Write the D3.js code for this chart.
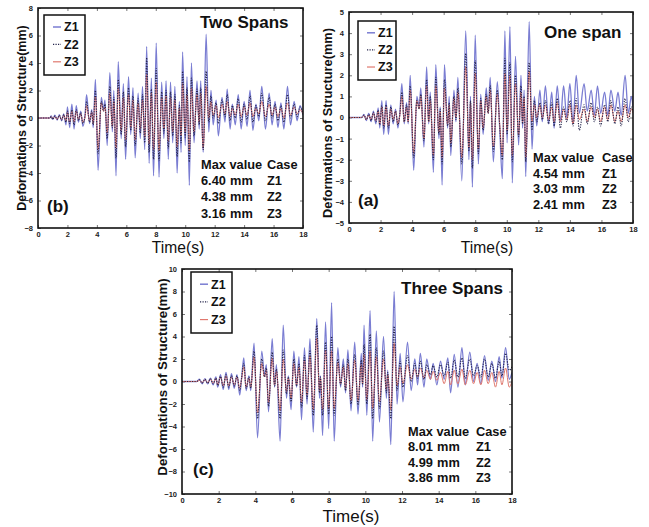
<!DOCTYPE html>
<html>
<head>
<meta charset="utf-8">
<script src="https://cdn.jsdelivr.net/npm/d3@7"></script>
<style>
  body { margin: 0; background: #fff; }
  svg { display: block; }
</style>
</head>
<body>
<svg id="fig" width="649" height="527"></svg>
<script>
// series names and the max-value tables
var seriesNames = ["Z1", "Z2", "Z3"];
var twoSpanMax = ["6.40", "4.38", "3.16"];
var oneSpanMax = ["4.54", "3.03", "2.41"];
var threeSpanMax = ["8.01", "4.99", "3.86"];

// (b) Two Spans : turning points (time s, deformation mm)
var twoTime = [0,0.8,0.9,1.0,1.15,1.3,1.45,1.6,1.75,1.9,2.0,2.15,2.3,2.45,2.6,2.75,2.9,3.05,3.2,3.3,
  3.5,3.65,3.75,3.9,4.08,4.3,4.45,4.55,4.7,4.88,5.05,5.15,5.3,5.45,5.65,5.8,5.95,6.15,6.3,6.45,
  6.6,6.8,6.95,7.1,7.25,7.38,7.55,7.7,7.85,8.03,8.22,8.4,8.55,8.7,8.85,9.0,9.15,9.3,9.45,9.6,
  9.72,9.82,10.0,10.12,10.28,10.42,10.6,10.8,10.95,11.05,11.22,11.42,11.6,11.75,11.9,12.1,12.25,12.5,12.7,12.85,
  13.05,13.2,13.4,13.6,13.8,14.0,14.2,14.4,14.6,14.8,15.0,15.2,15.45,15.7,15.9,16.1,16.3,16.5,16.7,16.95,
  17.15,17.4,17.6,17.8,18.0];
var twoZ1 = [0,0,0.15,-0.1,0.2,-0.15,0.25,-0.2,0.3,-0.5,0.8,-0.7,1.0,-0.8,0.9,-0.3,0.5,-0.6,0.3,1.7,
  -0.4,0.6,-0.7,2.8,-3.8,1.5,0.6,1.3,-2.0,3.3,-1.0,2.0,-4.2,4.1,-1.5,2.5,-3.0,3.0,-1.2,2.2,
  -2.9,1.8,-1.5,2.3,-2.3,5.2,-3.3,2.9,-4.2,5.45,-4.3,2.6,-1.5,2.7,-3.0,2.6,-1.8,2.3,-4.0,1.2,
  -2.5,4.8,-2.0,3.0,-4.9,4.0,-1.8,2.7,-0.8,2.7,-2.5,6.1,-1.0,2.0,-0.5,1.3,-1.3,1.5,-0.3,2.1,
  -0.8,1.0,-0.5,1.7,-0.8,1.2,-0.6,2.0,-0.9,1.0,-0.2,2.3,-0.8,1.8,-0.5,1.2,-0.7,1.1,-0.8,2.3,
  -0.5,1.2,-0.2,0.9,0.2];
var twoZ2 = [0,0,0.1,-0.1,0.15,-0.1,0.2,-0.15,0.25,-0.3,0.5,-0.4,0.6,-0.5,0.6,-0.2,0.4,-0.4,0.2,1.2,
  -0.3,0.5,-0.5,2.0,-2.6,1.2,0.5,1.0,-1.5,2.3,-0.7,1.5,-2.9,2.8,-1.2,1.9,-2.1,2.2,-0.9,1.6,
  -2.0,1.4,-1.1,1.7,-1.8,4.38,-2.5,2.1,-3.0,3.6,-3.1,1.9,-1.1,2.0,-2.2,1.9,-1.3,1.7,-2.8,0.9,
  -1.8,3.4,-1.4,2.2,-3.2,2.9,-1.3,2.1,-0.5,2.2,-2.3,3.4,-0.3,1.6,0.0,1.1,-0.4,1.3,0.1,1.7,
  -0.2,0.9,0.0,1.4,-0.3,1.0,-0.1,1.6,-0.3,0.9,0.1,1.8,-0.2,1.5,0.0,1.0,-0.2,0.9,-0.3,1.7,
  0.0,1.0,0.1,0.8,0.3];
var twoZ3 = [0,0,0.1,-0.05,0.1,-0.1,0.15,-0.1,0.2,-0.2,0.4,-0.3,0.5,-0.3,0.5,-0.1,0.3,-0.3,0.1,0.9,
  -0.2,0.4,-0.4,1.6,-2.3,1.1,0.5,0.8,-1.1,1.8,-0.6,1.2,-2.2,2.2,-0.9,1.5,-1.6,1.7,-0.7,1.3,
  -1.6,1.1,-0.8,1.3,-1.4,3.16,-1.9,1.8,-2.3,2.6,-2.4,1.5,-0.8,1.6,-1.7,1.5,-1.0,1.3,-2.1,0.7,
  -1.3,2.5,-1.0,1.7,-2.4,2.2,-1.0,1.7,-0.3,1.8,-2.2,2.3,0.0,1.2,0.2,0.9,0.0,1.0,0.3,1.2,
  0.1,0.7,0.2,1.0,0.1,0.8,0.2,1.1,0.1,0.7,0.3,1.2,0.1,1.0,0.2,0.8,0.1,0.7,0.0,1.1,
  0.2,0.8,0.3,0.6,0.3];

// (a) One span
var oneTime = [0,0.8,0.95,1.1,1.25,1.4,1.55,1.7,1.85,1.95,2.08,2.2,2.35,2.5,2.65,2.8,2.95,3.1,3.22,3.35,
  3.5,3.65,3.75,3.88,4.1,4.3,4.45,4.55,4.75,4.92,5.05,5.15,5.35,5.5,5.7,5.78,5.9,6.05,6.25,6.35,
  6.45,6.65,6.78,6.9,7.15,7.4,7.6,7.7,7.82,8.0,8.2,8.35,8.5,8.7,8.82,8.95,9.15,9.4,9.55,9.72,
  9.88,10.02,10.2,10.35,10.55,10.75,10.9,11.0,11.1,11.2,11.42,11.6,11.75,11.9,12.1,12.25,12.45,12.65,12.85,13.0,
  13.2,13.4,13.6,13.8,14.0,14.2,14.4,14.6,14.9,15.1,15.35,15.55,15.75,15.95,16.2,16.4,16.6,16.85,17.05,17.25,
  17.5,17.7,17.9,18.0];
var oneZ1 = [0,0,0.15,-0.15,0.2,-0.2,0.3,-0.3,0.45,-0.5,0.8,-0.8,0.8,-0.8,0.6,-0.3,0.4,-0.5,0.2,1.6,
  -0.3,0.7,-0.3,2.0,-2.5,1.0,0.5,1.4,-1.4,2.4,-0.3,1.2,-2.6,2.5,-1.0,0.5,-3.2,2.5,-0.5,1.0,
  -1.8,1.3,-0.2,1.9,-3.0,4.1,-2.0,1.0,-3.3,3.9,-2.2,1.1,-0.8,1.4,0.2,1.9,-2.1,1.7,-0.5,-2.9,
  4.1,-1.2,4.3,-3.1,2.9,-1.3,2.0,-0.5,1.3,-2.8,4.54,-1.5,1.0,-0.4,1.3,-0.2,1.5,-0.3,1.2,-0.5,
  1.5,-0.2,1.5,0.0,1.6,-0.3,2.0,0.2,1.6,0.3,1.3,0.1,1.5,0.2,1.2,0.1,1.3,0.3,1.2,0.1,
  2.0,0.2,1.0,0.5];
var oneZ2 = [0,0,0.12,-0.1,0.15,-0.15,0.25,-0.2,0.35,-0.35,0.55,-0.5,0.6,-0.5,0.5,-0.2,0.3,-0.35,0.15,1.2,
  -0.2,0.6,-0.2,1.5,-1.9,0.8,0.4,1.1,-1.1,1.8,-0.2,1.0,-2.0,1.9,-0.8,0.4,-2.2,1.8,-0.4,0.7,
  -1.4,1.0,-0.1,1.4,-2.2,3.03,-1.6,0.8,-2.4,2.7,-1.7,0.9,-0.6,1.1,0.2,1.5,-1.6,1.3,-0.4,-2.0,
  2.8,-0.8,2.6,-2.1,2.0,-0.9,1.5,-0.3,1.0,-2.1,2.6,-0.6,0.8,-0.2,0.7,-0.1,0.8,-0.3,0.7,-0.4,
  0.9,-0.5,0.5,-0.2,0.8,-0.4,0.9,-0.6,0.6,-0.3,0.7,-0.2,0.5,-0.4,0.6,-0.2,0.8,-0.3,0.5,-0.4,
  0.9,-0.2,0.5,0.3];
var oneZ3 = [0,0,0.1,-0.1,0.12,-0.1,0.2,-0.15,0.3,-0.3,0.5,-0.4,0.5,-0.4,0.4,-0.1,0.3,-0.3,0.1,1.0,
  -0.2,0.5,-0.2,1.3,-1.7,0.8,0.4,1.0,-1.0,1.5,-0.2,0.8,-1.8,1.5,-0.7,0.3,-1.9,1.4,-0.3,0.6,
  -1.2,0.9,0.0,1.2,-1.9,2.41,-1.4,0.7,-2.0,2.1,-1.5,0.8,-0.5,1.0,0.2,1.3,-1.4,1.1,-0.3,-1.8,
  2.1,-0.6,2.0,-1.8,1.6,-0.8,1.2,-0.2,0.9,-1.9,2.2,-0.2,0.6,0.0,0.6,0.0,0.6,-0.1,0.5,-0.2,
  0.7,-0.2,0.4,-0.1,0.6,-0.3,0.6,-0.1,0.4,-0.2,0.5,0.0,0.4,-0.2,0.5,-0.1,0.6,-0.2,0.3,-0.2,
  0.6,0.0,0.4,0.2];

// (c) Three Spans
var threeTime = [0,0.8,0.95,1.1,1.25,1.4,1.55,1.7,1.85,1.95,2.1,2.25,2.4,2.55,2.7,2.85,3.0,3.15,3.25,3.37,
  3.5,3.65,3.75,3.93,4.12,4.35,4.5,4.6,4.72,4.92,5.05,5.15,5.35,5.52,5.7,5.8,5.95,6.1,6.25,6.38,
  6.52,6.68,6.82,6.98,7.16,7.35,7.5,7.55,7.67,7.83,8.0,8.16,8.3,8.5,8.65,8.8,8.92,9.05,9.22,9.42,
  9.6,9.78,9.85,9.93,10.08,10.26,10.4,10.6,10.77,10.99,11.15,11.22,11.39,11.57,11.73,11.9,12.05,12.3,12.5,12.7,
  12.85,13.0,13.2,13.35,13.55,13.7,13.9,14.1,14.3,14.5,14.65,14.85,15.05,15.27,15.45,15.7,15.9,16.1,16.3,16.5,
  16.7,16.9,17.1,17.3,17.45,17.65,17.85,18.0];
var threeZ1 = [0,0,0.2,-0.2,0.25,-0.2,0.3,-0.3,0.4,-0.5,0.6,-0.7,0.8,-0.7,0.7,-0.6,0.6,-1.2,0.3,2.1,
  -0.8,0.5,-0.8,3.4,-5.0,2.7,0.5,1.5,-2.7,3.8,-0.5,1.5,-5.3,5.0,-1.5,0.5,-2.5,2.7,-0.5,2.2,
  -3.4,3.0,-2.0,3.8,-4.5,5.6,-1.5,0.5,-4.8,5.3,-4.2,7.0,-5.3,3.0,-0.5,2.0,-1.0,2.8,-2.6,3.5,
  -2.9,2.5,-0.5,5.0,-3.0,6.3,-5.3,4.5,-3.6,4.0,-1.5,1.0,-5.6,8.01,-2.0,2.5,-1.8,3.5,-0.8,2.0,
  -0.3,2.5,-0.5,2.0,0.2,1.6,-0.3,1.8,0.2,2.1,-1.0,2.4,-0.5,3.0,-0.3,2.6,0.0,1.6,-0.2,2.3,
  0.1,1.8,0.0,2.2,0.3,3.0,0.2,0.8];
var threeZ2 = [0,0,0.15,-0.15,0.2,-0.15,0.25,-0.2,0.3,-0.35,0.45,-0.5,0.6,-0.5,0.5,-0.4,0.5,-0.8,0.3,1.6,
  -0.6,0.4,-0.6,2.7,-3.3,2.0,0.4,1.2,-2.2,2.6,-0.4,1.1,-3.3,2.8,-1.1,0.4,-1.8,2.0,-0.4,1.6,
  -2.3,2.3,-1.5,2.8,-3.0,4.99,-1.0,0.4,-3.0,3.5,-2.9,4.0,-3.0,2.0,-0.3,1.5,-0.8,2.0,-2.0,2.4,
  -2.1,1.9,-0.3,3.3,-2.0,4.2,-3.3,3.0,-2.4,2.7,-1.0,0.8,-3.3,4.9,-0.8,1.8,-0.5,2.3,0.0,1.6,
  0.3,1.8,0.2,1.5,0.6,1.4,0.4,1.5,0.5,1.7,0.3,1.9,0.4,2.1,0.3,2.0,0.5,1.4,0.4,2.0,
  0.4,1.6,0.3,1.8,0.5,2.5,1.0,1.3];
var threeZ3 = [0,0,0.1,-0.1,0.15,-0.1,0.2,-0.15,0.25,-0.3,0.4,-0.4,0.5,-0.4,0.4,-0.3,0.4,-0.6,0.2,1.3,
  -0.5,0.3,-0.5,2.2,-2.8,1.6,0.4,1.0,-1.9,2.1,-0.3,0.9,-2.6,2.0,-0.9,0.3,-1.5,1.6,-0.3,1.3,
  -1.9,1.9,-1.2,2.3,-2.5,3.86,-0.8,0.3,-2.5,2.8,-2.4,2.7,-2.4,1.7,-0.2,1.3,-0.6,1.6,-1.7,1.9,
  -1.7,1.5,-0.2,2.4,-1.6,2.7,-2.4,2.2,-1.8,2.0,-0.7,0.6,-2.5,3.4,-0.4,1.3,-0.2,1.5,0.2,1.1,
  0.4,1.2,0.3,1.0,0.2,0.9,0.1,0.8,-0.2,0.9,-0.3,1.0,-0.2,1.1,-0.3,1.0,-0.2,0.8,-0.3,1.0,
  -0.2,0.8,-0.5,0.9,-0.3,1.2,-0.5,0.0];

// panel layout (pixels)
var panels = [
  { title: "Two Spans", tag: "(b)", time: twoTime, series: [twoZ1, twoZ2, twoZ3], maxv: twoSpanMax,
    x0: 38, x1: 303, y0: 8, y1: 228, yDom: [-8, 8], yStep: 2,
    leg: [44, 15, 41, 60], titleXY: [200, 28], tab: [201, 169, 16.2, 230, 267], tagXY: [47, 212],
    ylab: [22, 118, 12.5], xlab: [178, 253, 15.6] },
  { title: "One span", tag: "(a)", time: oneTime, series: [oneZ1, oneZ2, oneZ3], maxv: oneSpanMax,
    x0: 349, x1: 633, y0: 12, y1: 223, yDom: [-5, 5], yStep: 1,
    leg: [358, 21, 38, 59], titleXY: [544, 38], tab: [533, 162, 15.7, 562, 602], tagXY: [358, 206],
    ylab: [328, 123, 12.8], xlab: [487, 253, 15.6] },
  { title: "Three Spans", tag: "(c)", time: threeTime, series: [threeZ1, threeZ2, threeZ3], maxv: threeSpanMax,
    x0: 182, x1: 512, y0: 269, y1: 494, yDom: [-10, 10], yStep: 2,
    leg: [191, 272, 41, 61], titleXY: [401, 294], tab: [408, 436, 15.3, 437, 476], tagXY: [193, 475],
    ylab: [162, 377, 13.3], xlab: [351, 522, 17] }
];

var styles = [
  { color: "#7a7dd2", width: 1.3, dash: null },
  { color: "#25254c", width: 1.1, dash: "1.2,1.3" },
  { color: "#e0786e", width: 1.0, dash: null }
];
var drawOrder = [0, 2, 1];

var svg = d3.select("#fig");
var sans = "'Liberation Sans', Arial, sans-serif";
var narrow = "'Liberation Sans Narrow', 'Arial Narrow', 'Liberation Sans', sans-serif";

panels.forEach(function (p, pi) {
  var x = d3.scaleLinear().domain([0, 18]).range([p.x0, p.x1]);
  var y = d3.scaleLinear().domain(p.yDom).range([p.y1, p.y0]);
  var g = svg.append("g");

  // clip
  var cid = "clip" + pi;
  svg.append("clipPath").attr("id", cid).append("rect")
    .attr("x", p.x0).attr("y", p.y0).attr("width", p.x1 - p.x0).attr("height", p.y1 - p.y0);

  // axes: ticks inside, mirrored
  var xt = d3.range(0, 19, 2);
  var yt = d3.range(p.yDom[0], p.yDom[1] + 0.001, p.yStep);
  var axB = d3.axisBottom(x).tickValues(xt).tickSize(-3).tickPadding(4).tickFormat(d3.format("d"));
  var axT = d3.axisTop(x).tickValues(xt).tickSize(-3).tickFormat("");
  var axL = d3.axisLeft(y).tickValues(yt).tickSize(-3).tickPadding(5).tickFormat(d3.format("d"));
  var axR = d3.axisRight(y).tickValues(yt).tickSize(-3).tickFormat("");

  [[axB, "translate(0," + p.y1 + ")"], [axT, "translate(0," + p.y0 + ")"],
   [axL, "translate(" + p.x0 + ",0)"], [axR, "translate(" + p.x1 + ",0)"]].forEach(function (a) {
    var ag = g.append("g").attr("transform", a[1]).call(a[0]);
    ag.select(".domain").remove();
    ag.selectAll("line").attr("stroke", "#555").attr("stroke-width", 0.8);
    ag.selectAll("text").attr("font-family", narrow).attr("font-weight", "bold")
      .attr("font-size", 7.5).attr("fill", "#222");
  });

  // lines
  var lg = g.append("g").attr("clip-path", "url(#" + cid + ")");
  drawOrder.forEach(function (si) {
    var vals = p.series[si];
    var line = d3.line()
      .x(function (d, i) { return x(p.time[i]); })
      .y(function (d) { return y(d); })
      .curve(d3.curveMonotoneX);
    lg.append("path").datum(vals)
      .attr("d", line)
      .attr("fill", "none")
      .attr("stroke", styles[si].color)
      .attr("stroke-width", styles[si].width)
      .attr("stroke-dasharray", styles[si].dash)
      .attr("stroke-linejoin", "round");
  });

  // frame
  g.append("rect").attr("x", p.x0).attr("y", p.y0)
    .attr("width", p.x1 - p.x0).attr("height", p.y1 - p.y0)
    .attr("fill", "none").attr("stroke", "#111").attr("stroke-width", 1.6);

  // legend
  var L = p.leg;
  var leg = g.append("g");
  leg.append("rect").attr("x", L[0]).attr("y", L[1]).attr("width", L[2]).attr("height", L[3])
    .attr("fill", "#fff").attr("stroke", "#111").attr("stroke-width", 1.5);
  seriesNames.forEach(function (name, si) {
    var cy = L[1] + L[3] * (0.2 + 0.29 * si);
    leg.append("line").attr("x1", L[0] + 9).attr("x2", L[0] + 17).attr("y1", cy).attr("y2", cy)
      .attr("stroke", styles[si].color).attr("stroke-width", styles[si].width + 0.2)
      .attr("stroke-dasharray", styles[si].dash);
    leg.append("text").attr("x", L[0] + 20).attr("y", cy + 4.3).text(name)
      .attr("font-family", sans).attr("font-weight", "bold").attr("font-size", 12.5).attr("fill", "#111");
  });

  // title and tag
  g.append("text").attr("x", p.titleXY[0]).attr("y", p.titleXY[1]).text(p.title)
    .attr("font-family", sans).attr("font-weight", "bold").attr("font-size", 17).attr("fill", "#111");
  g.append("text").attr("x", p.tagXY[0]).attr("y", p.tagXY[1]).text(p.tag)
    .attr("font-family", sans).attr("font-weight", "bold").attr("font-size", 17).attr("fill", "#111");

  // max value table
  var T = p.tab;
  var tf = function (sel) {
    return sel.attr("font-family", sans).attr("font-weight", "bold").attr("font-size", 12.8).attr("fill", "#111");
  };
  tf(g.append("text").attr("x", T[0]).attr("y", T[1]).text("Max value"));
  tf(g.append("text").attr("x", T[4]).attr("y", T[1]).text("Case"));
  p.maxv.forEach(function (v, i) {
    var yy = T[1] + T[2] * (i + 1);
    tf(g.append("text").attr("x", T[0]).attr("y", yy).text(v));
    tf(g.append("text").attr("x", T[3]).attr("y", yy).text("mm"));
    tf(g.append("text").attr("x", T[4]).attr("y", yy).text(seriesNames[i]));
  });

  // axis labels
  g.append("text")
    .attr("transform", "translate(" + p.ylab[0] + "," + p.ylab[1] + ") rotate(-90)")
    .attr("text-anchor", "middle").attr("dy", "0.35em")
    .text("Deformations of Structure(mm)")
    .attr("font-family", sans).attr("font-weight", "bold").attr("font-size", p.ylab[2]).attr("fill", "#111");
  g.append("text").attr("x", p.xlab[0]).attr("y", p.xlab[1]).attr("text-anchor", "middle")
    .text("Time(s)")
    .attr("font-family", sans).attr("font-size", p.xlab[2]).attr("fill", "#111");
});
</script>
</body>
</html>
